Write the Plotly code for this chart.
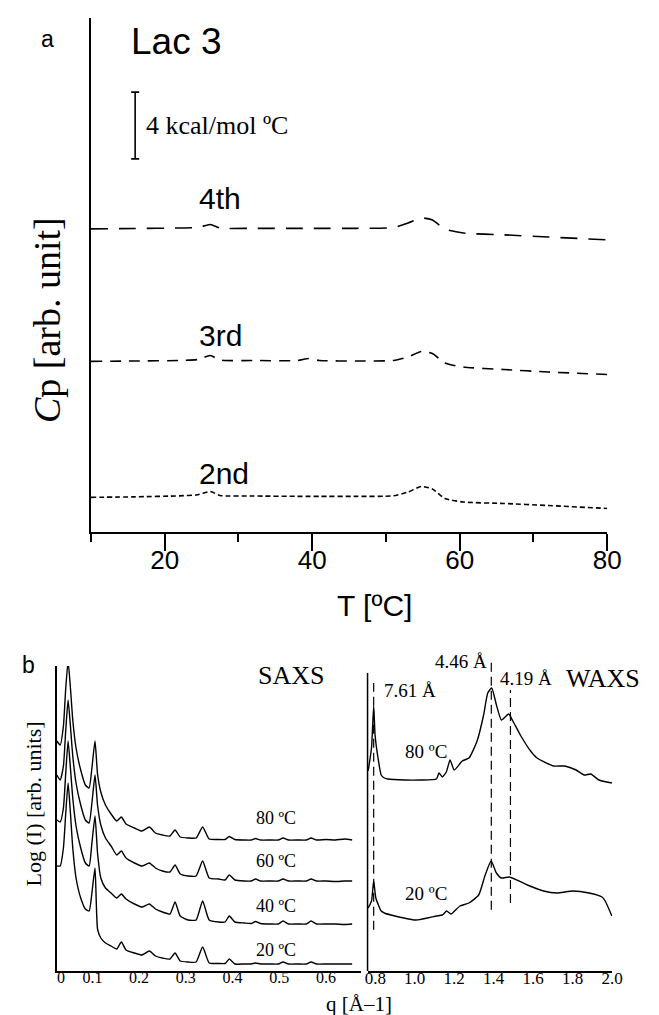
import plotly.graph_objects as go

# ---------------- data: panel a (DSC, Lac 3) ----------------
T = [10, 16, 22, 24.5, 26.2, 27.5, 32, 38, 39.5, 41, 46, 51, 53, 54.8, 56.3, 58, 60.5, 66, 72, 80]
cp_2nd = [2.08, 2.11, 2.17, 2.24, 2.43, 2.19, 2.16, 2.14, 2.14, 2.14, 2.14, 2.17, 2.40, 2.73, 2.58,
          2.01, 1.80, 1.71, 1.59, 1.41]
cp_3rd = [10.24, 10.26, 10.29, 10.35, 10.59, 10.32, 10.29, 10.29, 10.41, 10.29, 10.26, 10.29, 10.50,
          10.83, 10.71, 10.14, 9.90, 9.75, 9.60, 9.45]
cp_4th = [18.19, 18.21, 18.24, 18.27, 18.45, 18.24, 18.22, 18.22, 18.22, 18.22, 18.22, 18.27, 18.54,
          18.84, 18.72, 18.18, 17.94, 17.83, 17.70, 17.53]
scan_labels = ["2nd", "3rd", "4th"]
t_ticks = [20, 40, 60, 80]
t_minor = [10, 30, 50, 70]
scale_bar_T = 16
scale_bar_mid = 24.39
scale_bar_size = 4  # kcal/mol °C

# ---------------- data: panel b SAXS ----------------
saxs_q = [0.024, 0.031, 0.038, 0.043, 0.048, 0.053, 0.058, 0.065, 0.075, 0.085, 0.093, 0.099, 0.1056,
          0.111, 0.118, 0.128, 0.14, 0.152, 0.162, 0.172, 0.19, 0.206, 0.222, 0.235, 0.25, 0.266, 0.277,
          0.288, 0.305, 0.322, 0.336, 0.35, 0.37, 0.384, 0.393, 0.405, 0.425, 0.44, 0.449, 0.46, 0.48,
          0.498, 0.508, 0.52, 0.54, 0.558, 0.568, 0.58, 0.6, 0.62, 0.64, 0.656]
saxs_80 = [230, 226, 245, 283, 310, 283, 251, 223, 201, 186, 183, 203, 230, 197, 179, 166, 157, 150, 154,
           147, 143, 140, 144, 138, 136, 135, 141, 134, 133, 133, 144, 132, 131.5, 131.5, 134.5, 131.5,
           131, 131, 132.5, 131, 131, 131, 133, 131, 131, 131, 133, 131, 131.5, 131, 132, 131]
saxs_60 = [196, 191, 205, 241, 271, 245, 215, 188, 166, 151, 148, 168, 196, 166, 146, 133, 125, 116, 120,
           113, 108, 105, 108, 103, 100, 99, 106, 97, 95, 95, 110, 93, 92, 91, 96, 91, 90, 90, 92, 90, 90,
           90, 92, 90, 90, 90, 92, 90, 90, 89.5, 90, 90]
saxs_40 = [151, 149, 163, 198, 230, 203, 173, 145, 123, 108, 105, 128, 155, 118, 93, 83, 78, 73, 77, 72,
           67, 64, 67, 62, 59, 57, 69, 55, 51, 51, 70, 51, 49, 49, 55, 49, 48, 47.5, 49.5, 47.5, 47, 47,
           50, 47, 47, 47, 50, 47, 47, 47, 46.5, 47]
saxs_20 = [105, 105, 123, 158, 188, 158, 123, 93, 73, 62, 60, 78, 103, 42, 33, 28, 25, 22, 29, 21, 18, 16,
           20, 15, 13, 12, 18, 10, 9, 9, 24, 8, 7.5, 7.5, 12, 7, 7, 7, 8, 7, 7, 7, 9, 7, 7, 7, 9, 7, 7, 7,
           7, 7]
saxs_temps = ["20 ºC", "40 ºC", "60 ºC", "80 ºC"]
saxs_ticks = [0.0327, 0.1, 0.2, 0.3, 0.4, 0.5, 0.6]
saxs_ticktext = ["0", "0.1", "0.2", "0.3", "0.4", "0.5", "0.6"]

# ---------------- data: panel b WAXS ----------------
waxs_q_80 = [0.764, 0.781, 0.792, 0.799, 0.814, 0.830, 0.846, 0.863, 0.95, 1.03, 1.110, 1.123, 1.140,
             1.160, 1.179, 1.200, 1.241, 1.275, 1.316, 1.349, 1.370, 1.390, 1.414, 1.439, 1.476, 1.497,
             1.538, 1.587, 1.620, 1.703, 1.760, 1.818, 1.859, 1.892, 1.933, 1.999]
waxs_i_80 = [20.0, 22.3, 26.5, 23.6, 21.3, 19.6, 19.3, 19.2, 19.1, 19.1, 19.2, 19.8, 19.4, 19.9, 21.1,
             20.1, 21.0, 21.3, 23.0, 25.6, 27.8, 28.3, 26.6, 25.1, 25.7, 25.0, 23.5, 22.0, 21.3, 20.5,
             20.5, 20.1, 19.6, 19.7, 19.1, 18.8]
waxs_q_20 = [0.764, 0.781, 0.792, 0.803, 0.830, 0.846, 0.880, 1.006, 1.110, 1.140, 1.162, 1.184, 1.229,
             1.275, 1.324, 1.357, 1.387, 1.414, 1.439, 1.480, 1.571, 1.653, 1.719, 1.801, 1.883, 1.949,
             1.965, 1.999]
waxs_i_20 = [6.3, 7.0, 9.0, 7.3, 6.0, 5.8, 5.6, 5.1, 5.5, 5.6, 6.0, 5.7, 6.5, 6.8, 7.6, 9.6, 11.0, 9.8,
             9.3, 9.4, 8.6, 8.0, 7.8, 8.0, 7.8, 7.4, 7.0, 5.5]
d_labels = ["7.61 Å", "4.46 Å", "4.19 Å"]
d_q = [0.792, 1.388, 1.485]
d_top = [28.8, 31.0, 28.1]
d_bottom = [4.13, 6.13, 6.8]
waxs_ticks = [0.8, 1.0, 1.2, 1.4, 1.6, 1.8, 2.0]
waxs_ticktext = ["0.8", "1.0", "1.2", "1.4", "1.6", "1.8", "2.0"]

# ---------------- figure ----------------
W, H = 659, 1015
SANS = "Liberation Sans, Arial, Helvetica, sans-serif"
SERIF = "Liberation Serif, Times New Roman, serif"


def px(x):
    return x / W


def py(y):
    return 1 - y / H


fig = go.Figure()

dashes = {"2nd": "5px,3px", "3rd": "11px,8px", "4th": "17px,11px"}
for name, vals in zip(scan_labels, [cp_2nd, cp_3rd, cp_4th]):
    fig.add_trace(go.Scatter(x=T, y=vals, mode="lines", xaxis="x", yaxis="y",
                             line=dict(color="black", width=1.6, dash=dashes[name], shape="spline",
                                       smoothing=0.6),
                             showlegend=False, hoverinfo="skip"))

# scale bar (4 kcal/mol °C)
fig.add_trace(go.Scatter(x=[scale_bar_T], y=[scale_bar_mid], mode="markers", xaxis="x", yaxis="y",
                         marker=dict(size=1, color="rgba(0,0,0,0)"),
                         error_y=dict(type="data", array=[scale_bar_size / 2], symmetric=True,
                                      width=4, thickness=1.6, color="black"),
                         showlegend=False, hoverinfo="skip"))

for vals in [saxs_20, saxs_40, saxs_60, saxs_80]:
    fig.add_trace(go.Scatter(x=saxs_q, y=vals, mode="lines", xaxis="x2", yaxis="y2",
                             line=dict(color="black", width=1.4, shape="spline", smoothing=0.5),
                             showlegend=False, hoverinfo="skip"))

for qq, ii in [(waxs_q_20, waxs_i_20), (waxs_q_80, waxs_i_80)]:
    fig.add_trace(go.Scatter(x=qq, y=ii, mode="lines", xaxis="x3", yaxis="y3",
                             line=dict(color="black", width=1.4, shape="spline", smoothing=0.5),
                             showlegend=False, hoverinfo="skip"))

for q0, y0, y1 in zip(d_q, d_bottom, d_top):
    fig.add_trace(go.Scatter(x=[q0, q0], y=[y0, y1], mode="lines", xaxis="x3", yaxis="y3",
                             line=dict(color="black", width=1.2, dash="9px,5px"),
                             showlegend=False, hoverinfo="skip"))

ann = []


def A(text, x, y, size, family, xanchor="left", yanchor="middle", angle=0):
    ann.append(dict(text=text, x=px(x), y=py(y), xref="paper", yref="paper", showarrow=False,
                    xanchor=xanchor, yanchor=yanchor, textangle=angle,
                    font=dict(size=size, family=family, color="black")))


A("a", 37, 31, 23, SANS, xanchor="center")
A("Lac 3", 121, 33, 37, SANS)
A("4 kcal/mol ºC", 137, 118, 26, SERIF)
A("4th", 191, 190, 30, SANS)
A("3rd", 191, 327, 30, SANS)
A("2nd", 191, 465, 30, SANS)
A("T [ºC]", 373, 597, 30, SANS, xanchor="center")
A("<i>C</i>p [arb. unit]", 37, 312, 38, SERIF, xanchor="center", angle=-90)

A("b", 18, 657, 23, SANS, xanchor="center")
A("SAXS", 252, 667, 26, SERIF)
for lab, yy in zip(saxs_temps, [942, 898, 853, 810]):
    A(lab, 249, yy, 18, SERIF)
A("WAXS", 568, 670, 26, SERIF)
A("80 ºC", 402, 743, 19, SERIF)
A("20 ºC", 402, 885, 19, SERIF)
A(d_labels[0], 381, 682, 19, SERIF)
A(d_labels[1], 433, 653, 19, SERIF)
A(d_labels[2], 500, 670, 19, SERIF)
A("Log (I) [arb. units]", 23, 796, 22, SERIF, xanchor="center", angle=-90)
A("q [Å–1]", 357, 996, 21, SERIF, xanchor="center")

common_off = dict(showgrid=False, zeroline=False)

fig.update_layout(
    width=W, height=H, autosize=False,
    margin=dict(l=0, r=0, t=0, b=0),
    paper_bgcolor="white", plot_bgcolor="white",
    showlegend=False,
    annotations=ann,
    xaxis=dict(domain=[px(82), px(612)], range=[10, 80], anchor="y", showline=True, linecolor="black",
               linewidth=2, ticks="outside", ticklen=17, tickwidth=2, tickcolor="black",
               tickmode="array", tickvals=t_ticks, ticktext=[str(v) for v in t_ticks],
               ticklabelstandoff=-13,
               minor=dict(tickmode="array", tickvals=t_minor, ticks="outside", ticklen=8,
                          tickwidth=2, tickcolor="black"),
               tickfont=dict(family=SANS, size=26, color="black"), **common_off),
    yaxis=dict(domain=[py(524), py(10)], range=[0, 30.84], anchor="x", showline=True, linecolor="black",
               linewidth=2, showticklabels=False, ticks="", **common_off),
    xaxis2=dict(domain=[px(47), px(359)], range=[0.0238, 0.6744], anchor="y2", showline=True,
                linecolor="black", linewidth=1.5, ticks="", tickmode="array", tickvals=saxs_ticks,
                ticktext=saxs_ticktext, ticklabelstandoff=-9,
                tickfont=dict(family=SERIF, size=16, color="black"), **common_off),
    yaxis2=dict(domain=[py(963), py(658)], range=[0, 305], anchor="x2", showline=True,
                linecolor="black", linewidth=1.5, showticklabels=False, ticks="", **common_off),
    xaxis3=dict(domain=[px(366), px(617)], range=[0.761, 2.0], anchor="y3", showline=True,
                linecolor="black", linewidth=1.5, ticks="", tickmode="array", tickvals=waxs_ticks,
                ticktext=waxs_ticktext, ticklabelstandoff=-9,
                tickfont=dict(family=SERIF, size=17, color="black"), **common_off),
    yaxis3=dict(domain=[py(963), py(651)], range=[0, 31.2], anchor="x3", showline=False,
                showticklabels=False, ticks="", **common_off),
    shapes=[dict(type="line", xref="paper", yref="paper", x0=px(366), x1=px(366), y0=py(665), y1=py(963),
                 line=dict(color="black", width=1.5))],
)

fig.write_html("out.html")
